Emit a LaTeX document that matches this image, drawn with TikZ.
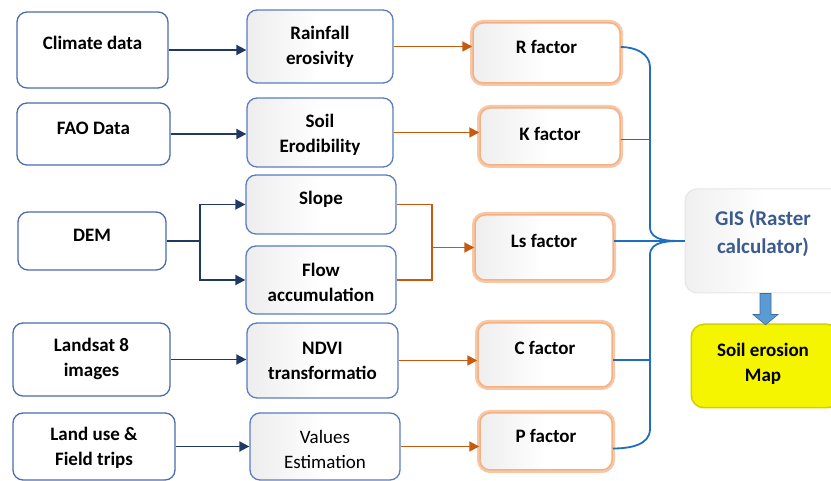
\documentclass[tikz,border=0pt]{standalone}
\usepackage{fontspec}
\setmainfont{Carlito}
\usetikzlibrary{arrows.meta,calc}
\definecolor{navy}{HTML}{1F3864}
\definecolor{lblue}{HTML}{4A6BB0}
\definecolor{mblue}{HTML}{5A7CC0}
\definecolor{ora}{HTML}{C55A11}
\definecolor{glow}{HTML}{F4B183}
\definecolor{bline}{HTML}{1F6FC0}
\definecolor{gistext}{HTML}{3B5B8F}
\definecolor{arrfill}{HTML}{5B9BD5}
\definecolor{yel}{HTML}{F5F500}
\tikzset{
  lbox/.style={draw=lblue, line width=1.3pt, rounded corners=10pt, fill=white},
  mbox/.style={draw=mblue, line width=1.3pt, rounded corners=10pt, left color=gray!14, right color=white, middle color=white},
  rbox/.style={preaction={draw=glow!70, line width=6pt}, draw=glow, line width=1.5pt, rounded corners=10pt, left color=gray!13, right color=white, middle color=white},
  gbox/.style={draw=gray!20, line width=1pt, rounded corners=12pt, left color=gray!12, right color=white, middle color=white},
  ybox/.style={preaction={draw=yel!85!black, line width=3pt}, draw=yel!90!black, rounded corners=12pt, fill=yel},
  txt/.style={font=\fontsize{19}{25}\selectfont\bfseries, align=center, inner sep=0pt},
  gtxt/.style={font=\fontsize{21}{28}\selectfont\bfseries, align=center, inner sep=0pt},
  ntxt/.style={font=\fontsize{19}{25}\selectfont, align=center, inner sep=0pt},
  narr/.style={draw=navy, line width=1.8pt, -{Triangle[length=10pt,width=10pt]}},
  nline/.style={draw=navy, line width=1.8pt},
  oarr/.style={draw=ora, line width=1.8pt, -{Triangle[length=10pt,width=10pt]}},
  oline/.style={draw=ora, line width=1.8pt},
  bl/.style={draw=bline, line width=1.8pt},
}
\begin{document}
\begin{tikzpicture}[x=1pt,y=1pt]
\useasboundingbox (0,0) rectangle (831,481);
% left column
\node[lbox, minimum width=151, minimum height=76] (clim) at (92.5,431) {};
\node[txt] (climt) at (92.5,438) {Climate data};
\node[lbox, minimum width=153, minimum height=62] (fao) at (93.5,347) {};
\node[txt] (faot) at (93.5,353) {FAO Data};
\node[lbox, minimum width=148, minimum height=58] (dem) at (92,240) {};
\node[txt] (demt) at (92,246) {DEM};
\node[lbox, minimum width=157, minimum height=73] (land) at (91.5,121.5) {};
\node[txt] (landt) at (91.5,122) {Landsat 8\\images};
\node[lbox, minimum width=162, minimum height=67] (luse) at (94,34.5) {};
\node[txt] (luset) at (94,33) {Land use \&\\Field trips};
% middle column
\node[mbox, minimum width=146, minimum height=73] (rain) at (320,434.5) {};
\node[txt] (raint) at (320,434) {Rainfall\\erosivity};
\node[mbox, minimum width=146, minimum height=69] (soil) at (320,348.5) {};
\node[txt] (soilt) at (320,346) {Soil\\Erodibility};
\node[mbox, minimum width=150, minimum height=59] (slope) at (321,276.5) {};
\node[txt] (slopet) at (321,282) {Slope};
\node[mbox, minimum width=150, minimum height=68] (flow) at (321,201) {};
\node[txt] (flowt) at (321,199) {Flow\\accumulation};
\node[mbox, minimum width=151, minimum height=75] (ndvi) at (322.5,120.5) {};
\node[txt] (ndvit) at (322.5,120) {NDVI\\transformatio};
\node[mbox, minimum width=150, minimum height=67] (val) at (325,34.5) {};
\node[ntxt] (valt) at (325,32) {Values\\Estimation};
% right column
\node[rbox, minimum width=147, minimum height=60] (rf) at (546.5,428) {};
\node[txt] (rft) at (546.5,434) {R factor};
\node[rbox, minimum width=140, minimum height=57] (kf) at (550,344.5) {};
\node[txt] (kft) at (550,347) {K factor};
\node[rbox, minimum width=138, minimum height=65] (lsf) at (544,233.5) {};
\node[txt] (lsft) at (544,240) {Ls factor};
\node[rbox, minimum width=134, minimum height=64] (cf) at (545,126) {};
\node[txt] (cft) at (545,133) {C factor};
\node[rbox, minimum width=132, minimum height=57] (pf) at (546,39.5) {};
\node[txt] (pft) at (546,45) {P factor};
% GIS and map
\node[gbox, minimum width=161, minimum height=104] (gis) at (765.5,240) {};
\node[gtxt, text=gistext] (gist) at (763,248) {GIS (Raster\\calculator)};
\node[ybox, minimum width=147, minimum height=82] (map) at (765.5,115) {};
\node[txt] (mapt) at (763,117.5) {Soil erosion\\Map};
% navy arrows
\draw[narr] (clim.east) -- (clim.east -| rain.west);
\draw[narr] (fao.east) -- (fao.east -| soil.west);
\draw[narr] (land.east) -- (land.east -| ndvi.west);
\draw[narr] (luse.east) -- (luse.east -| val.west);
\coordinate (dsplit) at (200,240);
\draw[nline] (dem.east) -- (dsplit);
\draw[narr] (dsplit) |- (slope.west);
\draw[narr] (dsplit) |- (flow.west);
% orange arrows
\draw[oarr] (rain.east) -- (rain.east -| rf.west);
\draw[oarr] (soil.east) -- (soil.east -| kf.west);
\draw[oarr] (ndvi.east) -- (ndvi.east -| cf.west);
\draw[oarr] (val.east) -- (val.east -| pf.west);
\path (lsf.west) ++(-42,0) coordinate (ojoin);
\draw[oline] (slope.east) -| (ojoin);
\draw[oline] (flow.east) -| (ojoin);
\draw[oarr] (ojoin) -- (lsf.west);
% blue brace
\coordinate (tip) at (gis.west);
\draw[bl] ([yshift=6]rf.east) to[out=0,in=90] (650,414) -- (650,254) to[out=-90,in=180] (tip);
\draw[bl] ([yshift=-7]pf.east) to[out=0,in=-90] (650,52) -- (650,226) to[out=90,in=180] (tip);
\draw[bl] ([yshift=-3]kf.east) -- ([yshift=-3]kf.east -| 650,0);
\draw[bl] ([yshift=-5]cf.east) -- ([yshift=-5]cf.east -| 650,0);
\draw[bl] (lsf.east |- tip) -- (tip);
% block arrow
\draw[fill=arrfill, draw=arrfill!70!black, line width=0.6pt]
  ($(gis.south)+(-5.5,0)$) -- ($(gis.south)+(5.5,0)$) -- ($(gis.south)+(5.5,-21)$) -- ($(gis.south)+(12.5,-21)$)
  -- (map.north) -- ($(gis.south)+(-12.5,-21)$) -- ($(gis.south)+(-5.5,-21)$) -- cycle;
\end{tikzpicture}
\end{document}
